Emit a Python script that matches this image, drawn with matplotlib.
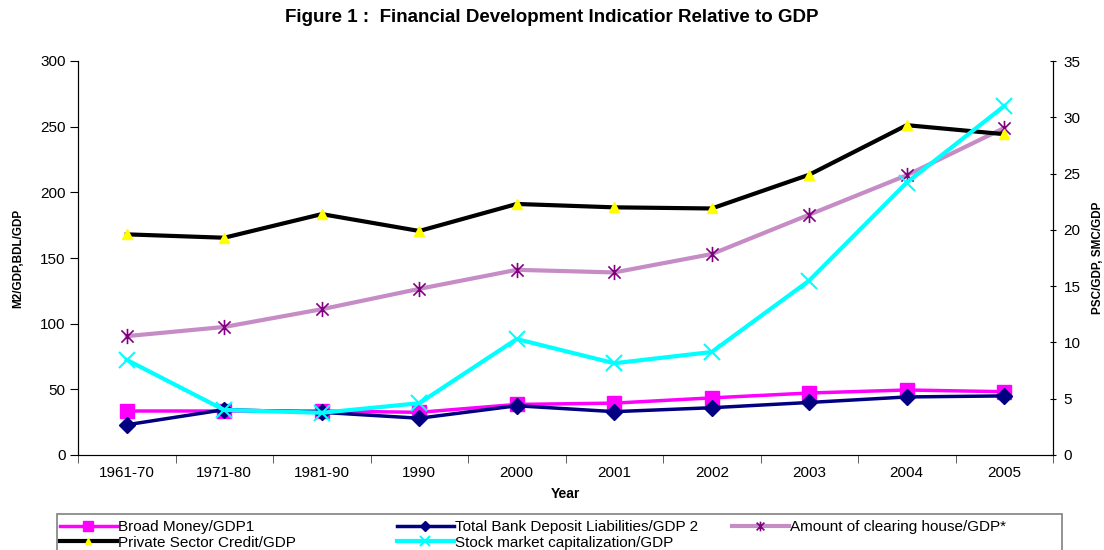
import matplotlib
matplotlib.use("Agg")
import matplotlib.pyplot as plt
from matplotlib.path import Path
from matplotlib.lines import Line2D
from matplotlib.patches import Rectangle

plt.rcParams['font.family'] = ['Liberation Sans', 'DejaVu Sans']

# Données
years = ['1961-70', '1971-80', '1981-90', '1990', '2000', '2001', '2002', '2003', '2004', '2005']
broad_money = [33.5, 33.5, 33.5, 32.5, 38.5, 39.5, 43.5, 47.2, 49.5, 48.2]
bank_deposit = [23.0, 34.5, 32.5, 28.0, 37.5, 33.0, 36.0, 40.0, 44.2, 45.0]
clearing_house = [90.5, 97.5, 111.0, 126.5, 141.0, 139.0, 153.0, 183.0, 213.0, 249.0]
private_credit = [19.6, 19.3, 21.4, 19.9, 22.3, 22.0, 21.9, 24.9, 29.3, 28.5]
stock_market = [8.45, 4.0, 3.75, 4.6, 10.3, 8.15, 9.15, 15.5, 24.2, 31.0]

x = list(range(len(years)))

W, H = 1104, 550

# Marqueur étoile (croix + trait vertical) comme dans Excel
star = Path([(-1, -1), (1, 1), (-1, 1), (1, -1), (0, -1.25), (0, 1.25)],
            [Path.MOVETO, Path.LINETO, Path.MOVETO, Path.LINETO, Path.MOVETO, Path.LINETO])

# Styles des séries
styles = {
    'bm': dict(color='#FF00FF', lw=2.5, marker='s', mec='#FF00FF', mfc='#FF00FF'),
    'bd': dict(color='#000080', lw=2.5, marker='D', mec='#000080', mfc='#000080'),
    'ch': dict(color='#C68CC6', lw=3, marker=star, mec='#800080', mew=1.2),
    'pc': dict(color='black', lw=3, marker='^', mec='#FFFF00', mfc='#FFFF00'),
    'sm': dict(color='#00FFFF', lw=3, marker='x', mec='#00FFFF', mew=1.5),
}

fig = plt.figure(figsize=(W / 100, H / 100), dpi=100)
ax = fig.add_axes([78 / W, 1 - 455 / H, (1053 - 78) / W, (455 - 61) / H])
ax2 = ax.twinx()

ax.plot(x, broad_money, ms=10, clip_on=False, **styles['bm'])
ax.plot(x, bank_deposit, ms=8, clip_on=False, **styles['bd'])
ax.plot(x, clearing_house, ms=11, clip_on=False, **styles['ch'])
ax2.plot(x, private_credit, ms=7, clip_on=False, **styles['pc'])
ax2.plot(x, stock_market, ms=11, clip_on=False, **styles['sm'])

ax.set_xlim(-0.5, len(years) - 0.5)
ax.set_ylim(0, 300)
ax2.set_ylim(0, 35)
ax.set_yticks(range(0, 301, 50))
ax2.set_yticks(range(0, 36, 5))
ax.set_xticks(x)
ax.set_xticklabels(years)
ax.set_xticks([i - 0.5 for i in range(len(years) + 1)], minor=True)

ax.tick_params(axis='x', which='major', length=0, labelsize=11, pad=8)
ax.tick_params(axis='x', which='minor', length=6, direction='out', color='#444444')
ax.tick_params(axis='y', length=6, direction='out', labelsize=11, pad=3)
ax2.tick_params(axis='y', length=5, direction='inout', labelsize=11, pad=5)

for a in (ax, ax2):
    a.spines['top'].set_visible(False)
ax.spines['bottom'].set_color('#555555')

ax.set_xlabel('Year', fontsize=10, fontweight='bold', labelpad=5)
ax.set_ylabel('M2/GDP,BDL/GDP', fontsize=8.5, fontweight='bold', labelpad=11)
ax2.set_ylabel('PSC/GDP, SMC/GDP', fontsize=8.5, fontweight='bold', labelpad=8)

fig.suptitle('Figure 1 :  Financial Development Indicatior Relative to GDP',
             fontsize=13.5, fontweight='bold', y=1 - 18 / H, va='center')

# Légende : cadre + trois colonnes (remplissage ligne par ligne comme Excel)
fig.patches.append(Rectangle((57 / W, -0.05), (1062 - 57) / W, 0.05 + 1 - 514 / H,
                             transform=fig.transFigure, fill=False,
                             edgecolor='#808080', lw=1.2))

columns = [
    (60, [('bm', 7, 'Broad Money/GDP1'), ('pc', 5, 'Private Sector Credit/GDP')]),
    (397, [('bd', 5, 'Total Bank Deposit Liabilities/GDP 2'), ('sm', 7, 'Stock market capitalization/GDP')]),
    (732, [('ch', 7, 'Amount of clearing house/GDP*')]),
]
for x0, entries in columns:
    hs = [Line2D([], [], ms=ms, **styles[key]) for key, ms, _ in entries]
    labels = [lab for _, _, lab in entries]
    leg = fig.legend(handles=hs, labels=labels, loc='upper left',
                     bbox_to_anchor=(x0 / W, 1 - 520 / H), bbox_transform=fig.transFigure,
                     fontsize=11, frameon=False, handlelength=3.7, handletextpad=0.1,
                     labelspacing=0.1, borderpad=0, borderaxespad=0)

fig.savefig('out.png', dpi=100)
